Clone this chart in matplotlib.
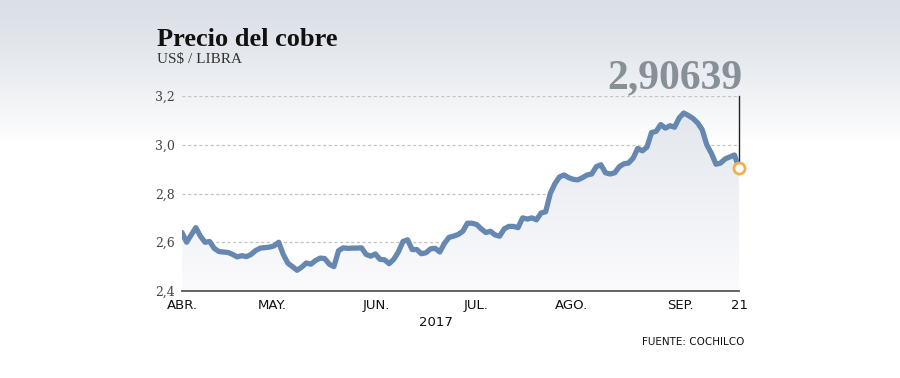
import numpy as np
import matplotlib.pyplot as plt
from matplotlib.colors import LinearSegmentedColormap

# copper price, USD/lb, one value per trading day (Apr 3 - Sep 21, 2017)
precio = [2.640, 2.600, 2.630, 2.660, 2.625, 2.600, 2.603, 2.575, 2.562, 2.560,
          2.558, 2.550, 2.540, 2.545, 2.541, 2.550, 2.566, 2.576, 2.578, 2.580,
          2.585, 2.600, 2.550, 2.514, 2.500, 2.485, 2.498, 2.515, 2.510, 2.525,
          2.535, 2.533, 2.510, 2.500, 2.565, 2.577, 2.575, 2.576, 2.576, 2.577,
          2.550, 2.543, 2.552, 2.530, 2.528, 2.512, 2.530, 2.560, 2.603, 2.610,
          2.570, 2.570, 2.553, 2.557, 2.573, 2.575, 2.560, 2.595, 2.620, 2.625,
          2.632, 2.645, 2.678, 2.678, 2.673, 2.655, 2.640, 2.645, 2.630, 2.625,
          2.655, 2.665, 2.665, 2.660, 2.700, 2.695, 2.700, 2.692, 2.720, 2.725,
          2.800, 2.840, 2.868, 2.876, 2.865, 2.858, 2.856, 2.865, 2.876, 2.880,
          2.910, 2.918, 2.885, 2.880, 2.885, 2.910, 2.922, 2.925, 2.945, 2.985,
          2.975, 2.990, 3.050, 3.055, 3.083, 3.068, 3.078, 3.072, 3.110, 3.130,
          3.120, 3.108, 3.090, 3.062, 3.000, 2.965, 2.920, 2.925, 2.942, 2.950,
          2.958, 2.90639]

meses = ['ABR.', 'MAY.', 'JUN.', 'JUL.', 'AGO.', 'SEP.', '21']
meses_idx = [0, 19.6, 42.2, 63.9, 84.6, 108.3, 121]
yticks = [2.4, 2.6, 2.8, 3.0, 3.2]
ultimo = '2,90639'

x = np.arange(len(precio))
y = np.array(precio)

line_col = '#6688b0'
serif = ['DejaVu Serif']
times = ['Liberation Serif', 'DejaVu Serif']
narrow = ['Liberation Sans Narrow', 'DejaVu Sans']

fig = plt.figure(figsize=(9, 3.78), dpi=100)

# background gradient (grey at top, white below)
bg = fig.add_axes([0, 0, 1, 1], zorder=-10)
grad = np.linspace(0, 1, 378).reshape(-1, 1)
grad = np.clip(grad / 0.38, 0, 1) ** 1.3
bg_cmap = LinearSegmentedColormap.from_list('bg', ['#dbe0e7', '#ffffff'])
bg.imshow(grad, aspect='auto', cmap=bg_cmap, extent=[0, 1, 0, 1], origin='upper')
bg.axis('off')

ax = fig.add_axes([182/900, 1 - 291/378, 557/900, 195/378])
ax.patch.set_alpha(0)

# gradient fill under the line
fill_cmap = LinearSegmentedColormap.from_list('fill', ['#fbfbfd', '#e2e6ec'])
fg = np.linspace(0, 1, 200).reshape(-1, 1)
im = ax.imshow(fg, aspect='auto', cmap=fill_cmap, origin='lower',
               extent=[0, len(precio) - 1, 2.4, 3.15], zorder=1)
poly = ax.fill_between(x, y, 2.4, color='none')
clip = poly.get_paths()[0]
im.set_clip_path(clip, transform=ax.transData)

for t in yticks[1:]:
    ax.axhline(t, color='#c4c4c4', lw=0.9, ls=(0, (2.5, 2)), zorder=0)

ax.plot(x, y, color=line_col, lw=3.8, solid_capstyle='round',
        solid_joinstyle='round', zorder=3)
ax.plot([x[-1], x[-1]], [y[-1], 3.2], color='#222222', lw=1.0, zorder=2,
        clip_on=False)
ax.plot(x[-1], y[-1], 'o', ms=8, mfc='white', mec='#f0b04c', mew=2, zorder=4,
        clip_on=False)

ax.set_xlim(0, len(precio) - 1)
ax.set_ylim(2.4, 3.2)
for s in ['top', 'right', 'left']:
    ax.spines[s].set_visible(False)
ax.spines['bottom'].set_color('#555555')
ax.spines['bottom'].set_linewidth(1.3)
ax.spines['bottom'].set_zorder(5)

ax.set_yticks(yticks)
ax.set_yticklabels([f'{t:.1f}'.replace('.', ',') for t in yticks],
                   family=serif, fontsize=9, color='#444444')
ax.tick_params(axis='y', length=0, pad=5)
ax.set_xticks(meses_idx)
ax.set_xticklabels(meses, family=narrow, fontsize=9.5, color='#111111')
ax.tick_params(axis='x', length=0, pad=6)

fig.text(157/900, 1 - 40/378, 'Precio del cobre', family=times, fontweight='bold',
         fontsize=19, color='#111111', va='center', ha='left')
fig.text(157/900, 1 - 60/378, 'US$ / LIBRA', family=times, fontsize=11,
         color='#333333', va='center', ha='left')
fig.text(742/900, 1 - 78/378, ultimo, family=times, fontweight='bold',
         fontsize=30, color='#878f97', va='center', ha='right')
fig.text(436/900, 1 - 322/378, '2017', family=narrow, fontsize=9.5,
         color='#111111', va='center', ha='center')
fig.text(744/900, 1 - 342/378, 'FUENTE: COCHILCO', family=narrow, fontsize=7.5,
         color='#111111', va='center', ha='right')

fig.savefig('out.png', dpi=100)
